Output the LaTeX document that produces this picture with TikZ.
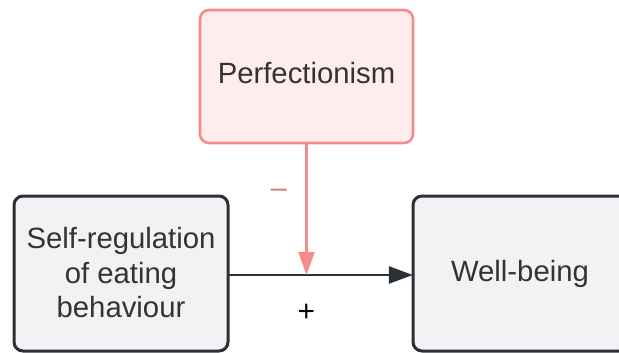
\documentclass[tikz,border=0pt]{standalone}
\usepackage{fontspec}
\setmainfont{Liberation Sans}
\usetikzlibrary{arrows.meta}
\definecolor{pinkline}{HTML}{F58C8C}
\definecolor{pinkfill}{HTML}{FFEDED}
\definecolor{pinkdark}{HTML}{D67A7A}
\definecolor{greyfill}{HTML}{F1F2F4}
\definecolor{darkline}{HTML}{2B2F36}
\definecolor{textcol}{HTML}{333333}
\begin{document}
\begin{tikzpicture}[x=1pt,y=-1pt,
  boxtext/.style={font=\fontsize{29.3}{34.5}\selectfont, text=textcol, align=center},
  pinkbox/.style={draw=pinkline, fill=pinkfill, line width=2.6pt, rounded corners=9pt},
  greybox/.style={draw=darkline, fill=greyfill, line width=3pt, rounded corners=9pt},
  main/.style={draw=darkline, line width=2.6pt, -{Triangle[length=24pt,width=17pt]}},
  modline/.style={draw=pinkline, line width=2.2pt, -{Triangle[length=23pt,width=16pt]}}]
\useasboundingbox (0,0) rectangle (619,353);
\begin{scope}
\clip (0,0) rectangle (619,353);
\draw[pinkbox] (200,10) rectangle (413,143);
\draw[greybox] (14,196) rectangle (228,351);
\draw[greybox] (413,196) rectangle (628,351);
\end{scope}
\node[boxtext, inner sep=0pt, minimum width=213pt, minimum height=133pt] (perf) at (306.5,73) {Perfectionism};
\node[boxtext, inner sep=0pt, minimum width=214pt, minimum height=155pt] (self) at (121,273) {Self-regulation\\of eating\\behaviour};
\node[boxtext, inner sep=0pt, minimum width=214pt, minimum height=155pt] (well) at (520,273.5) {Well-being};
\coordinate (mid) at (306.5,275);
\draw[main] (self.east |- mid) -- (well.west |- mid);
\draw[modline] (306.5,143) -- (mid);
\node[font=\fontsize{29}{30}\selectfont, text=pinkdark, inner sep=0pt] (minus) at (279,193) {–};
\node[font=\fontsize{30}{31}\selectfont, text=black, inner sep=0pt] (plus) at (306.5,313) {+};
\end{tikzpicture}
\end{document}
